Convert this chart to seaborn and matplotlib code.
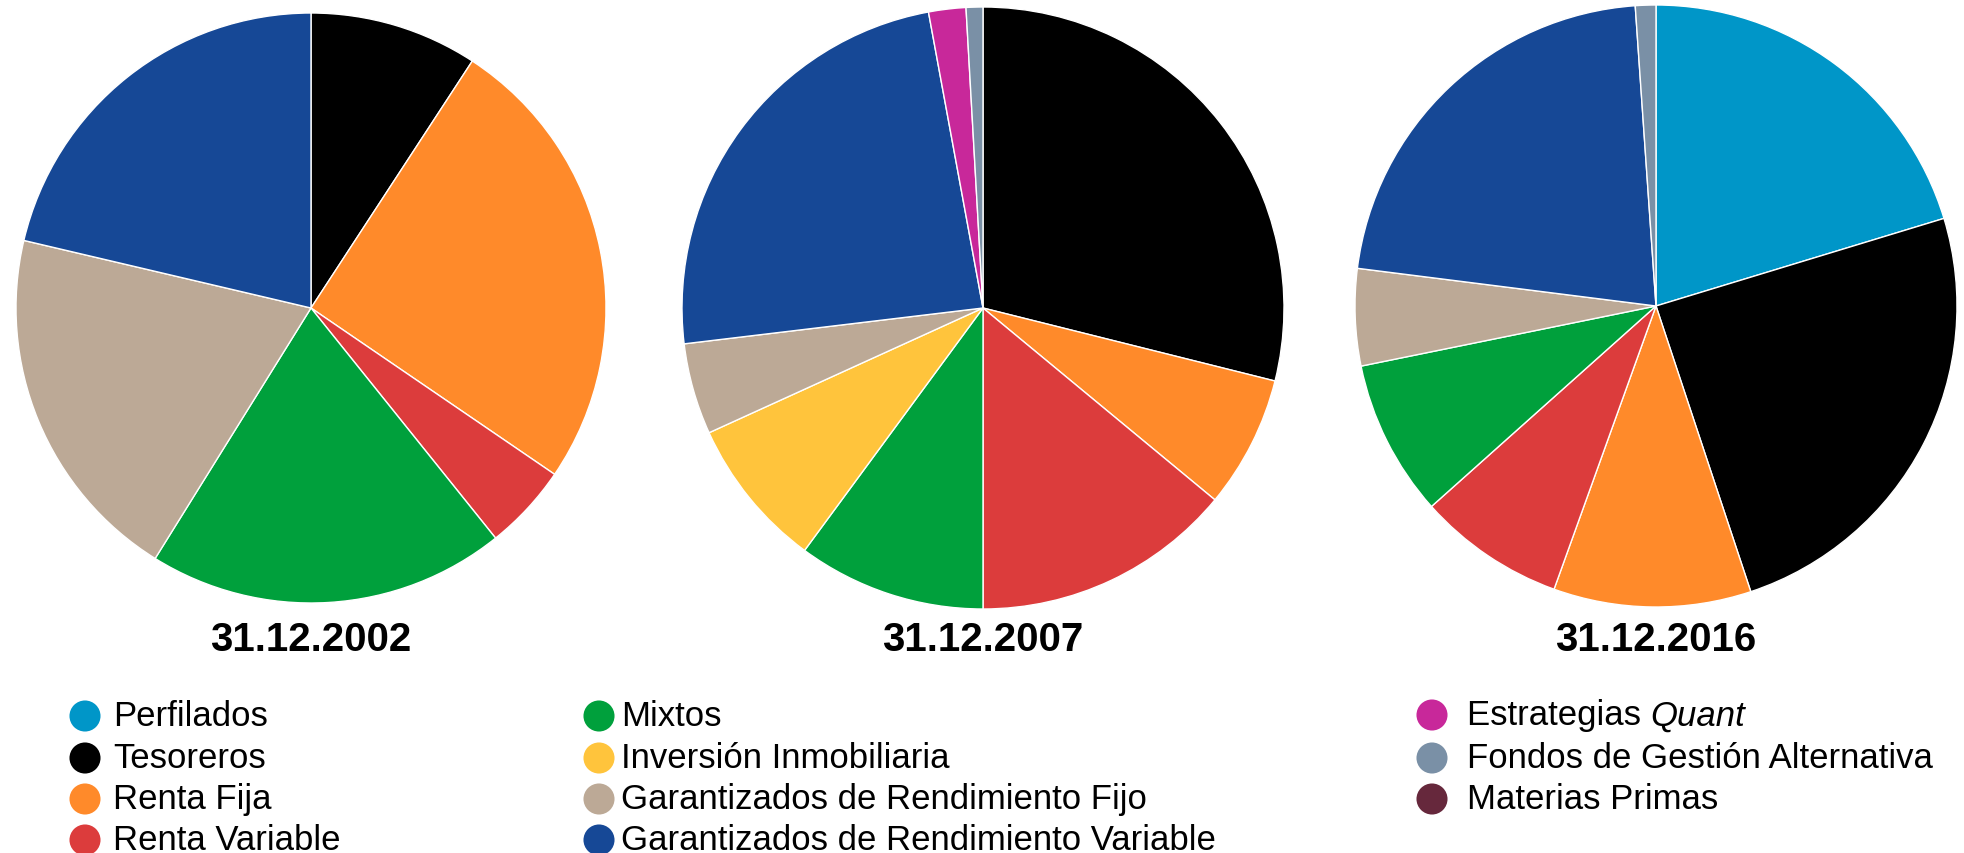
import matplotlib
matplotlib.use("Agg")
import matplotlib.pyplot as plt
import seaborn as sns

sns.set_theme(style="white")
plt.rcParams['font.family'] = ['Liberation Sans', 'DejaVu Sans']

categories = ["Perfilados", "Tesoreros", "Renta Fija", "Renta Variable", "Mixtos",
              "Inversión Inmobiliaria", "Garantizados de Rendimiento Fijo",
              "Garantizados de Rendimiento Variable", "Estrategias Quant",
              "Fondos de Gestión Alternativa", "Materias Primas"]
colors = ["#0096C8", "#000000", "#FF8A2A", "#DC3C3C", "#00A03C", "#FFC43C",
          "#BCA996", "#164896", "#C8289A", "#7A90A6", "#66283C"]

years = ["31.12.2002", "31.12.2007", "31.12.2016"]
values_2002 = [0, 9.2, 25.3, 4.7, 19.6, 0, 19.8, 21.3, 0, 0, 0]
values_2007 = [0, 28.9, 7.1, 14.0, 10.1, 8.1, 4.9, 24.0, 2.0, 0.9, 0]
values_2016 = [20.3, 24.6, 10.6, 7.9, 8.4, 0, 5.2, 21.9, 0, 1.1, 0]
all_values = [values_2002, values_2007, values_2016]

W, H = 1964, 854
fig = plt.figure(figsize=(W / 100, H / 100), dpi=100)

# pie geometry in pixels (center x, center y from top, radius)
geom = [(311, 309, 295), (983, 309, 301), (1656, 307, 301)]

for (cx, cy, r), vals, title in zip(geom, all_values, years):
    ax = fig.add_axes([(cx - r) / W, (H - cy - r) / H, 2 * r / W, 2 * r / H])
    v = [x for x in vals if x > 0]
    c = [col for x, col in zip(vals, colors) if x > 0]
    ax.pie(v, colors=c, startangle=90, counterclock=False, radius=1,
           wedgeprops=dict(edgecolor="white", linewidth=1.0))
    ax.set_xlim(-1, 1)
    ax.set_ylim(-1, 1)
    ax.set_aspect("equal")
    ax.axis("off")
    fig.text(cx / W, 1 - 640 / H, title, ha="center", va="center",
             fontsize=29, fontweight="bold", color="black")

# legend overlay
lax = fig.add_axes([0, 0, 1, 1], facecolor="none")
lax.set_xlim(0, W)
lax.set_ylim(H, 0)
lax.axis("off")

legend_cols = [
    (85, 113, [0, 1, 2, 3], [717, 759, 800, 841]),
    (599, 621, [4, 5, 6, 7], [717, 759, 800, 841]),
    (1432, 1467, [8, 9, 10], [716, 759, 800]),
]
fs = 25
for mx, tx, idxs, ys in legend_cols:
    for i, y in zip(idxs, ys):
        lax.scatter([mx], [y], s=500, color=colors[i], edgecolor="none", zorder=3)
        if categories[i] == "Estrategias Quant":
            t1 = lax.text(tx, y, "Estrategias ", fontsize=fs, va="center", ha="left", color="black")
            fig.canvas.draw()
            bb = t1.get_window_extent()
            lax.text(bb.x1, y, "Quant", fontsize=fs, va="center", ha="left",
                     style="italic", color="black")
        else:
            lax.text(tx, y, categories[i], fontsize=fs, va="center", ha="left", color="black")

fig.savefig("out.png", dpi=100)
